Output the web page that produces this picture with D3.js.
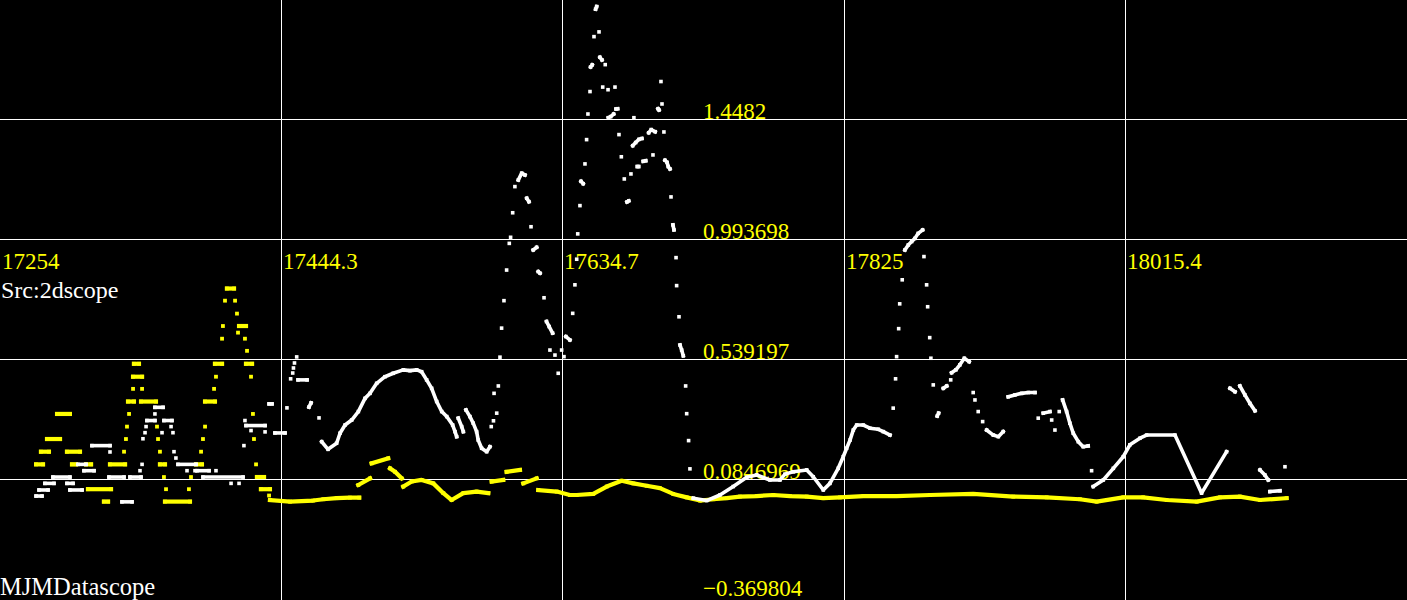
<!DOCTYPE html>
<html><head><meta charset="utf-8">
<script src="https://cdn.jsdelivr.net/npm/d3@7"></script>
<style>html,body{margin:0;padding:0;background:#000;overflow:hidden}svg{display:block}</style>
</head><body><svg id="c" width="1407" height="600"></svg>
<script>
// ---- tick labels / values ----
const xTickValues = [17254, 17444.3, 17634.7, 17825, 18015.4];
const xTickLabels = ["17254", "17444.3", "17634.7", "17825", "18015.4"];
const yTickValues = [1.4482, 0.993698, 0.539197, 0.0846969, -0.369804];
const yTickLabels = ["1.4482", "0.993698", "0.539197", "0.0846969", "\u22120.369804"];
const titleTop = "Src:2dscope";
const titleBottom = "MJMDatascope";

// ---- series data: runs of [MJD, value, MJD, value, ...] ----
const whiteLeft = [
 [17278.4,0.022, 17282.4,0.022],[17280.4,0.045, 17286.5,0.045],[17284.4,0.070, 17290.5,0.070],
 [17289.8,0.094, 17301.3,0.094],[17299.3,0.070, 17303.4,0.070],[17301.3,0.045, 17309.5,0.045],
 [17306.8,0.142, 17312.2,0.142],[17310.8,0.118, 17317.6,0.118],[17316.2,0.213, 17328.4,0.213],
 [17327.7,0.094, 17337.9,0.094],[17328.4,0.189],[17336.5,0.000, 17343.3,0.000],
 [17341.9,0.094, 17349.4,0.094],[17348.7,0.118],[17350.1,0.142],[17350.7,0.239],[17352.1,0.262],
 [17352.8,0.285],[17353.4,0.308, 17358.8,0.308],[17358.8,0.333],[17358.8,0.358, 17364.3,0.358],
 [17363.6,0.262],[17364.9,0.308, 17370.3,0.308],[17369.7,0.285],[17371.0,0.262],[17371.7,0.190],
 [17373.0,0.166],[17374.4,0.142, 17386.6,0.142],[17380.5,0.118],[17385.9,0.118],
 [17387.3,0.118, 17395.4,0.118],[17391.3,0.094, 17418.4,0.094],[17400.1,0.118],
 [17410.3,0.070],[17415.7,0.070],[17419.0,0.213],[17419.7,0.308],[17420.4,0.289, 17433.3,0.289],
 [17423.8,0.270],[17433.3,0.265],[17436.0,0.371, 17438.0,0.371],[17440.0,0.261, 17446.8,0.261],
 [17448.1,0.356],[17450.6,0.466],[17452.0,0.488],[17452.5,0.507],[17453.2,0.526],[17454.7,0.549],
 [17455.6,0.462, 17461.7,0.462],[17463.0,0.359, 17464.4,0.375],[17469.8,0.318],
 [17471.6,0.228, 17475.9,0.199, 17481.7,0.222, 17484.0,0.260, 17487.4,0.291, 17491.9,0.310,
  17496.4,0.342, 17500.9,0.392, 17504.3,0.411, 17508.8,0.449, 17514.4,0.474, 17520.0,0.487,
  17526.8,0.500, 17531.3,0.497, 17535.9,0.500, 17539.2,0.493, 17542.6,0.462, 17546.0,0.430,
  17549.4,0.380, 17552.8,0.342, 17556.2,0.323, 17560.2,0.291, 17561.8,0.266, 17562.9,0.247],
 [17564.0,0.317, 17566.3,0.285, 17567.4,0.266],
 [17569.2,0.348, 17571.9,0.323, 17574.1,0.298, 17576.4,0.266, 17577.5,0.234, 17579.8,0.203, 17583.2,0.190, 17585.4,0.209],
 [17586.3,0.285],[17587.8,0.307],[17588.2,0.411],[17590.0,0.336],[17591.1,0.439]
];
const whitePeak1 = [
 [17592.2,0.548],[17593.3,0.658],[17594.9,0.762],[17596.7,0.878],[17598.5,0.979],[17599.4,1.002],
 [17600.8,1.095],[17602.3,1.194],[17604.6,1.219, 17606.9,1.245, 17609.1,1.238],[17610.3,1.150, 17611.8,1.137],
 [17613.2,1.042],[17614.7,0.954, 17617.0,0.964],[17618.1,0.872, 17619.3,0.866],[17622.0,0.773],
 [17623.7,0.683, 17625.5,0.664, 17627.8,0.639],[17626.0,0.575],[17629.4,0.556],[17631.6,0.487],
 [17633.9,0.575],[17635.5,0.550],[17636.8,0.626, 17639.5,0.613],[17641.4,0.714],[17642.9,0.822],
 [17644.1,0.919],[17644.8,1.015],[17646.3,1.122],[17647.0,1.214, 17648.5,1.205],[17649.7,1.280],
 [17650.8,1.372],[17651.7,1.469],[17653.1,1.554],[17653.5,1.647, 17654.6,1.655],[17655.8,1.762],
 [17656.9,1.866, 17657.6,1.876],[17659.2,1.780],[17659.8,1.684, 17661.2,1.674],[17661.7,1.571],
 [17663.4,1.656],[17665.3,1.561],[17665.5,1.455, 17667.1,1.459, 17669.1,1.469],[17670.0,1.571],
 [17670.7,1.488, 17671.8,1.489],[17672.7,1.391],[17674.3,1.307],[17676.3,1.223],
 [17678.1,1.136, 17679.3,1.140],[17680.8,1.242],[17682.0,1.349, 17684.0,1.361, 17686.2,1.373, 17688.2,1.376],
 [17682.8,1.455],[17685.1,1.270, 17686.0,1.270],[17689.1,1.290, 17690.8,1.292],
 [17692.8,1.398, 17694.5,1.410, 17697.2,1.402],[17695.7,1.314],[17699.1,1.489, 17699.8,1.484],
 [17701.1,1.592],[17701.8,1.507],[17703.1,1.401],[17703.8,1.294, 17705.2,1.286, 17706.0,1.270, 17707.2,1.261],
 [17707.9,1.155],[17709.2,1.049, 17709.9,1.030],[17711.3,0.925],[17711.7,0.819],[17713.3,0.701],
 [17714.0,0.594, 17715.1,0.575, 17716.2,0.553],[17717.8,0.439],[17718.5,0.334],[17719.8,0.232],[17720.7,0.125]
];
const whiteMid = [
 [17723.0,0.014, 17732.0,0.005, 17741.0,0.026, 17750.0,0.058, 17759.1,0.093, 17765.8,0.102,
  17774.8,0.083, 17781.6,0.083, 17785.0,0.105, 17790.6,0.114, 17799.7,0.121, 17804.1,0.095,
  17810.9,0.045, 17815.4,0.070, 17821.0,0.127, 17824.4,0.171, 17826.7,0.203, 17829.0,0.234,
  17831.2,0.272, 17833.5,0.291, 17838.0,0.291, 17842.5,0.279, 17848.1,0.275, 17851.5,0.266, 17856.0,0.253]
];
const whitePeak2 = [
 [17858.2,0.355],[17859.8,0.466],[17860.5,0.550],[17861.9,0.656],[17862.6,0.750],[17864.3,0.841],
 [17866.1,0.954, 17868.4,0.973, 17870.7,0.986, 17872.9,0.998, 17875.1,1.017, 17878.1,1.030],
 [17879.0,0.929],[17880.8,0.822],[17881.5,0.739],[17882.9,0.622],[17883.7,0.544],[17885.3,0.443],
 [17888.0,0.325, 17888.9,0.336],[17892.1,0.430, 17894.4,0.439],[17897.1,0.462],
 [17897.7,0.489, 17900.6,0.500, 17903.3,0.519, 17906.3,0.544, 17909.6,0.531],
 [17912.3,0.414],[17913.5,0.386],[17915.7,0.342],[17918.7,0.304],
 [17921.4,0.272, 17925.9,0.253, 17929.3,0.247, 17932.6,0.266],
 [17936.0,0.398, 17940.5,0.405, 17945.1,0.411, 17949.6,0.414, 17954.1,0.414],
 [17956.3,0.317],[17959.7,0.336, 17964.2,0.342],[17965.4,0.310],[17967.6,0.272],[17970.5,0.342],
 [17972.8,0.386, 17975.5,0.342, 17977.7,0.298, 17980.0,0.260, 17983.4,0.228, 17986.7,0.209, 17990.1,0.212],
 [17992.4,0.118]
];
const whiteRight = [
 [17993.5,0.058, 18000.3,0.083, 18007.1,0.127, 18013.8,0.171, 18018.3,0.216, 18025.1,0.241,
  18029.6,0.253, 18048.8,0.253, 18066.8,0.033, 18083.7,0.190],
 [18086.0,0.430, 18089.4,0.417],[18092.7,0.439, 18096.1,0.405, 18099.5,0.373, 18102.9,0.345],
 [18106.3,0.121, 18109.6,0.102, 18111.9,0.083],[18113.0,0.039, 18119.8,0.042],[18123.2,0.133]
];
const yellowLeft = [
 [17278.4,0.142, 17283.1,0.142],[17281.7,0.190, 17287.1,0.190],[17285.8,0.238, 17294.6,0.238],
 [17292.6,0.333, 17301.3,0.333],[17299.3,0.190, 17308.1,0.190],[17302.7,0.142, 17305.4,0.142],
 [17312.2,0.142, 17315.6,0.142],[17313.5,0.048, 17329.1,0.048],[17324.3,0.001, 17327.1,0.001],
 [17328.4,0.142, 17338.6,0.142],[17337.9,0.190],[17339.2,0.238],[17339.9,0.285],[17341.3,0.333],
 [17340.6,0.380, 17344.6,0.380],[17344.0,0.428],[17344.0,0.474, 17350.1,0.474],[17344.6,0.523, 17348.0,0.523],
 [17350.1,0.428],[17349.4,0.380, 17359.5,0.380],[17360.2,0.285],[17360.9,0.238],[17362.2,0.190],
 [17362.2,0.142, 17365.6,0.142],[17364.9,0.094],[17366.3,0.048],[17365.6,0.001, 17382.5,0.001],
 [17381.8,0.048],[17383.2,0.094],[17386.6,0.142, 17390.6,0.142],[17390.0,0.190],[17391.3,0.238],
 [17392.7,0.285],[17392.7,0.380, 17399.4,0.380],[17398.8,0.428],[17400.1,0.474],[17399.4,0.523, 17404.2,0.523],
 [17404.2,0.618],[17404.8,0.666],[17406.2,0.762],[17407.5,0.808, 17412.3,0.808],[17413.0,0.762],
 [17414.3,0.713],[17415.0,0.641],[17415.7,0.666, 17420.4,0.666],[17419.7,0.618],[17421.1,0.572],
 [17420.4,0.523, 17424.5,0.523],[17423.8,0.474],[17425.1,0.333],[17425.8,0.238],[17427.2,0.142],
 [17427.8,0.094, 17432.6,0.094],[17430.5,0.048, 17436.6,0.048],[17436.0,0.024]
];
const yellowRight = [
 [17436.6,0.007, 17450.2,0.001, 17465.9,0.005, 17472.7,0.010, 17481.7,0.014, 17490.7,0.016, 17497.0,0.016],
 [17496.4,0.064, 17504.3,0.089],[17505.4,0.146, 17516.6,0.165],[17517.8,0.127, 17521.2,0.114, 17525.7,0.089],
 [17526.8,0.058, 17532.5,0.077, 17539.2,0.083, 17547.1,0.070, 17553.9,0.033, 17559.5,0.007,
  17567.4,0.033, 17576.4,0.039, 17584.3,0.033],
 [17586.6,0.077, 17594.4,0.083],[17596.7,0.114, 17605.7,0.121],[17608.0,0.070, 17617.0,0.089],
 [17618.1,0.045, 17630.6,0.039, 17639.5,0.026, 17644.1,0.026, 17655.3,0.030, 17664.4,0.058,
  17674.5,0.080, 17682.4,0.070, 17691.4,0.061, 17700.4,0.052, 17709.4,0.030, 17718.5,0.017,
  17727.5,0.005, 17736.5,0.010, 17745.5,0.014, 17754.5,0.020, 17765.8,0.022, 17777.1,0.026,
  17788.4,0.022, 17799.7,0.020, 17810.9,0.014, 17822.2,0.017, 17838.0,0.022, 17860.5,0.022,
  17883.1,0.026, 17912.3,0.030, 17939.4,0.020, 17962.0,0.017, 17984.5,0.010, 17995.8,0.001,
  18013.8,0.017, 18027.3,0.017, 18043.2,0.007, 18063.5,0.001, 18079.2,0.017, 18092.7,0.020,
  18106.3,0.007, 18124.3,0.014]
];

// ---- drawing ----
const W = 1407, H = 600;
const svg = d3.select("#c");
svg.append("rect").attr("width", W).attr("height", H).attr("fill", "#000");

const x = d3.scaleLinear().domain([17254, 17254 + 5 * 190.35]).range([0, W]);
const y = d3.scaleLinear().domain([-0.369804, 1.902701]).range([599.5, -0.5]);

const grid = svg.append("g").attr("stroke", "#fff").attr("stroke-width", 1).attr("shape-rendering", "crispEdges");
grid.selectAll("line.v").data(xTickValues.slice(1)).join("line")
  .attr("x1", d => Math.floor(x(d)) + 0.5).attr("x2", d => Math.floor(x(d)) + 0.5)
  .attr("y1", 0).attr("y2", H);
grid.selectAll("line.h").data(yTickValues.slice(0, 4)).join("line")
  .attr("y1", d => Math.floor(y(d)) + 0.5).attr("y2", d => Math.floor(y(d)) + 0.5)
  .attr("x1", 0).attr("x2", W);

const font = "'Liberation Serif','Times New Roman',serif";
const txt = svg.append("g").attr("font-family", font).attr("font-size", 23);
txt.selectAll("text.xl").data(xTickValues).join("text")
  .attr("x", d => Math.floor(x(d)) + 2).attr("y", 268.5)
  .attr("fill", "#ffff00").text((d, i) => xTickLabels[i]);
txt.selectAll("text.yl").data(yTickValues).join("text")
  .attr("x", 703).attr("y", (d, i) => i === yTickValues.length - 1 ? 595.5 : y(d) - 1)
  .attr("fill", "#ffff00").text((d, i) => yTickLabels[i]);
txt.append("text").attr("x", 1).attr("y", 297.5).attr("font-size", 24).attr("fill", "#fff").text(titleTop);
txt.append("text").attr("x", 0).attr("y", 594.5).attr("font-size", 24.5).attr("fill", "#fff").text(titleBottom);

function toPts(run) { const p = []; for (let i = 0; i < run.length; i += 2) p.push([run[i], run[i + 1]]); return p; }
const line = d3.line().x(d => x(d[0])).y(d => y(d[1]));
function drawSeries(runs, color, sw, sz) {
  const g = svg.append("g");
  const pr = runs.map(toPts);
  g.selectAll("path").data(pr.filter(r => r.length > 1)).join("path")
    .attr("d", line).attr("fill", "none").attr("stroke", color)
    .attr("stroke-width", sw).attr("stroke-linecap", "square").attr("stroke-linejoin", "round");
  g.selectAll("rect").data(pr.flat()).join("rect")
    .attr("x", d => x(d[0]) - sz / 2).attr("y", d => y(d[1]) - sz / 2)
    .attr("width", sz).attr("height", sz).attr("fill", color);
}
drawSeries(yellowLeft.concat(yellowRight), "#ffff00", 4.2, 3.8);
drawSeries(whiteLeft.concat(whitePeak1, whiteMid, whitePeak2, whiteRight), "#ffffff", 3.6, 3.6);
</script></body></html>
